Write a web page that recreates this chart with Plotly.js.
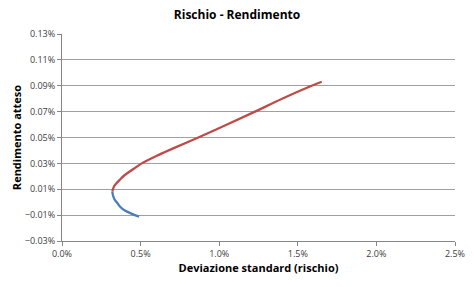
<!DOCTYPE html>
<html>
<head>
<meta charset="utf-8">
<script src="https://cdn.plot.ly/plotly-3.0.1.min.js"></script>
<style>html,body{margin:0;padding:0;background:#fff;}#chart{width:474px;height:287px;}</style>
</head>
<body>
<div id="chart"></div>
<script>
// Lower branch (blue): standard deviation and expected return (fractions)
var blueRisk   = [0.0032, 0.00325, 0.00335, 0.00348, 0.0037, 0.0040, 0.00445, 0.0049];
var blueReturn = [0.000082, 0.00005, 0.00002, 0.0, -0.000035, -0.000065, -0.00009, -0.000111];
// Upper branch (red): efficient frontier
var redRisk   = [0.0032, 0.0033, 0.00345, 0.00369, 0.0040, 0.00454, 0.00507, 0.0060, 0.0070, 0.00867, 0.0105, 0.01228, 0.0140, 0.01588, 0.01652];
var redReturn = [0.000082, 0.00012, 0.000145, 0.000175, 0.00021, 0.000256, 0.00030, 0.000357, 0.000412, 0.00050, 0.00060, 0.00070, 0.00080, 0.00090, 0.000931];
var yTicks = [-0.0003, -0.0001, 0.0001, 0.0003, 0.0005, 0.0007, 0.0009, 0.0011, 0.0013];
var xTicks = [0, 0.005, 0.01, 0.015, 0.02, 0.025];

var font = "Open Sans, Liberation Sans, sans-serif";
var traces = [
  {x: blueRisk, y: blueReturn, mode: 'lines', line: {color: '#4A7EBB', width: 2.3, shape: 'spline', smoothing: 1}, hoverinfo: 'none'},
  {x: redRisk, y: redReturn, mode: 'lines', line: {color: '#BE4B48', width: 2.3, shape: 'spline', smoothing: 1}, hoverinfo: 'none'}
];
var layout = {
  width: 474, height: 287,
  margin: {l: 62, r: 19, t: 34, b: 46},
  paper_bgcolor: '#fff', plot_bgcolor: '#fff',
  showlegend: false,
  font: {family: font, size: 9, color: '#404040'},
  title: {text: '<b>Rischio - Rendimento</b>', font: {family: font, size: 12, color: '#000'}, x: 0.5, xanchor: 'center', y: 0.95, yanchor: 'middle', yref: 'container'},
  xaxis: {
    range: [0, 0.025], tickvals: xTicks, tickformat: '.1%',
    showgrid: false, zeroline: false,
    showline: true, linecolor: '#868686', linewidth: 1,
    ticks: 'outside', ticklen: 4, tickcolor: '#868686',
    tickfont: {size: 9, color: '#404040'},
    title: {text: '<b>Deviazione standard (rischio)</b>', font: {family: font, size: 11, color: '#000'}, standoff: 5}
  },
  yaxis: {
    range: [-0.0003, 0.0013], tickvals: yTicks, tickformat: '.2%',
    showgrid: true, gridcolor: '#a0a0a0', gridwidth: 1, zeroline: false,
    showline: true, linecolor: '#868686', linewidth: 1,
    ticks: 'outside', ticklen: 4, tickcolor: '#868686',
    tickfont: {size: 9, color: '#404040'},
    title: {text: '<b>Rendimento atteso</b>', font: {family: font, size: 11, color: '#000'}, standoff: 0}
  }
};
Plotly.newPlot('chart', traces, layout, {staticPlot: true, displayModeBar: false});
</script>
</body>
</html>
